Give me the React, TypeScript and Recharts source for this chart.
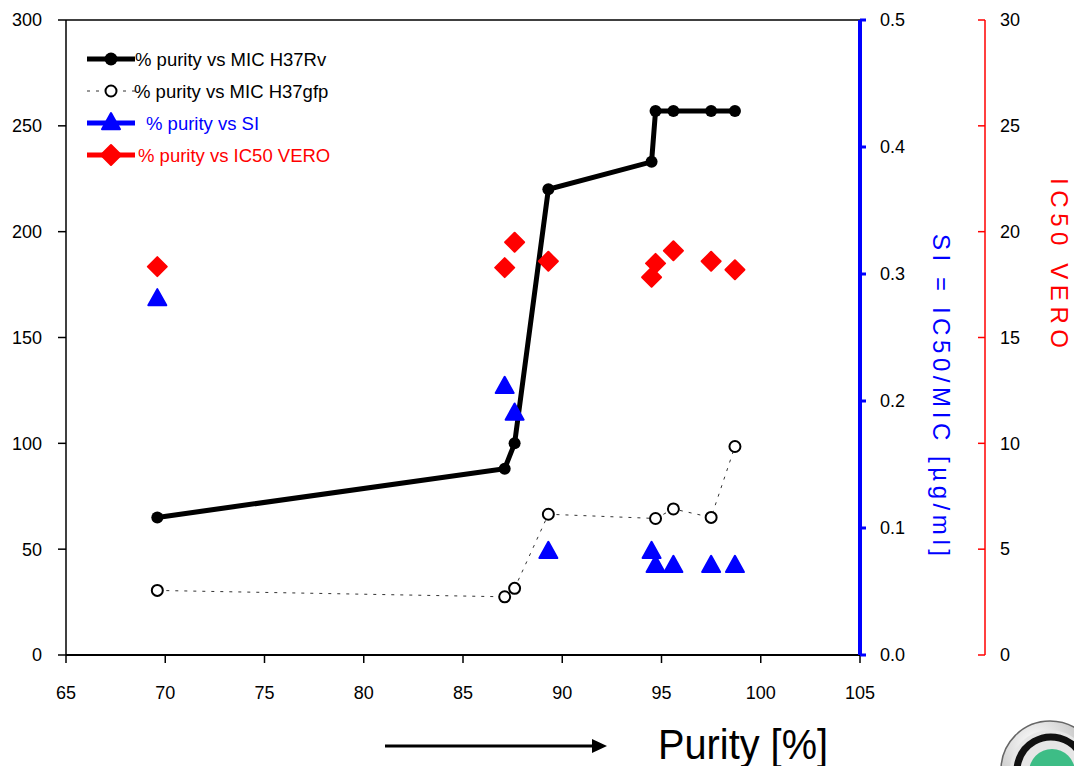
import React from "react";
import { ComposedChart, Line, XAxis, YAxis, Legend, ReferenceLine } from "recharts";

// purity of the samples [%]
const purity = [69.6, 87.1, 87.6, 89.3, 94.5, 94.7, 95.6, 97.5, 98.7];
// MIC values (left axis)
const micH37Rv = [65, 88, 100, 220, 233, 257, 257, 257, 257];
const micH37gfp = [30.5, 27.5, 31.5, 66.5, null, 64.5, 69, 65, 98.5];
// selectivity index (blue axis)
const si = [0.281, 0.212, 0.191, 0.082, 0.082, 0.071, 0.071, 0.071, 0.071];
// IC50 VERO (red axis)
const ic50Vero = [18.35, 18.3, 19.5, 18.6, 17.85, 18.5, 19.1, 18.6, 18.2];

const xTicks = [65, 70, 75, 80, 85, 90, 95, 100, 105];
const micTicks = [0, 50, 100, 150, 200, 250, 300];
const siTicks = [0, 0.1, 0.2, 0.3, 0.4, 0.5];
const ic50Ticks = [0, 5, 10, 15, 20, 25, 30];

const legendLabels = [
  "% purity vs MIC H37Rv",
  "% purity vs MIC H37gfp",
  "% purity vs SI",
  "% purity vs IC50 VERO",
];

const FONT = "'Liberation Sans', Arial, sans-serif";
const BLUE = "#0000ff";
const RED = "#ff0000";

const rows = purity.map((x, i) => ({
  x,
  rv: micH37Rv[i],
  gfp: micH37gfp[i],
  si: si[i],
  ic50: ic50Vero[i],
}));

function triangle(cx: number, cy: number, s = 9) {
  return `${cx},${cy - s} ${cx + s},${cy + s * 0.8} ${cx - s},${cy + s * 0.8}`;
}
function diamond(cx: number, cy: number, s = 9.5) {
  return `${cx},${cy - s} ${cx + s},${cy} ${cx},${cy + s} ${cx - s},${cy}`;
}

const TriangleDot = (p: any) => {
  if (p.cx == null || p.cy == null) return <g key={p.index} />;
  return (
    <polygon key={p.index} points={triangle(p.cx, p.cy)} fill={BLUE} stroke={BLUE} strokeWidth={2} strokeLinejoin="round" />
  );
};

const DiamondDot = (p: any) => {
  if (p.cx == null || p.cy == null) return <g key={p.index} />;
  return (
    <polygon key={p.index} points={diamond(p.cx, p.cy)} fill={RED} stroke={RED} strokeWidth={2} strokeLinejoin="round" />
  );
};

const RedTick = (p: any) => {
  const { x, y, payload } = p;
  return (
    <g>
      <line x1={x - 7} y1={y} x2={x} y2={y} stroke={RED} strokeWidth={1.5} />
      <text x={x + 15} y={y} dy="0.35em" fontSize={18} fill="#000" fontFamily={FONT}>
        {payload.value}
      </text>
    </g>
  );
};

const LegendBox = () => {
  const x1 = 87;
  const x2 = 135;
  const mx = 111;
  const ys = [59, 91, 123, 155];
  const txt = { fontSize: 18.5, fontFamily: FONT, dominantBaseline: "central" as const };
  return (
    <svg width={400} height={180} style={{ position: "absolute", left: 0, top: 0, overflow: "visible" }}>
      <line x1={x1} y1={ys[0]} x2={x2} y2={ys[0]} stroke="#000" strokeWidth={5} />
      <circle cx={mx} cy={ys[0]} r={6.5} fill="#000" />
      <text x={135} y={ys[0]} fill="#000" {...txt}>{legendLabels[0]}</text>

      <line x1={x1} y1={ys[1]} x2={x2} y2={ys[1]} stroke="#333" strokeWidth={1} strokeDasharray="3 6" />
      <circle cx={mx} cy={ys[1]} r={5.5} fill="#fff" stroke="#000" strokeWidth={2} />
      <text x={134} y={ys[1]} fill="#000" {...txt}>{legendLabels[1]}</text>

      <line x1={x1} y1={ys[2]} x2={x2} y2={ys[2]} stroke={BLUE} strokeWidth={5} />
      <polygon points={triangle(mx, ys[2] - 1)} fill={BLUE} stroke={BLUE} strokeWidth={2} strokeLinejoin="round" />
      <text x={146} y={ys[2]} fill={BLUE} {...txt}>{legendLabels[2]}</text>

      <line x1={x1} y1={ys[3]} x2={x2} y2={ys[3]} stroke={RED} strokeWidth={5} />
      <polygon points={diamond(mx, ys[3], 10)} fill={RED} stroke={RED} strokeWidth={2} strokeLinejoin="round" />
      <text x={138} y={ys[3]} fill={RED} {...txt}>{legendLabels[3]}</text>
    </svg>
  );
};

const PurityLabel = () => (
  <g>
    <line x1={385} y1={746} x2={594} y2={746} stroke="#000" strokeWidth={3} />
    <polygon points="592,739 607,746 592,753" fill="#000" />
    <text x={658} y={759} fontSize={43} fontFamily={FONT} fill="#000" textLength={170} lengthAdjust="spacingAndGlyphs">
      Purity [%]
    </text>
  </g>
);

const SiLabel = () => (
  <text
    x={941}
    y={395}
    transform="rotate(90, 941, 395)"
    textAnchor="middle"
    dominantBaseline="central"
    fontSize={24}
    fontFamily={FONT}
    fill={BLUE}
    textLength={322}
    lengthAdjust="spacing"
  >
    SI = IC50/MIC [µg/ml]
  </text>
);

const Ic50Label = () => (
  <text
    x={1059}
    y={263}
    transform="rotate(90, 1059, 263)"
    textAnchor="middle"
    dominantBaseline="central"
    fontSize={24}
    fontFamily={FONT}
    fill={RED}
    textLength={170}
    lengthAdjust="spacing"
  >
    IC50 VERO
  </text>
);

export default function App() {
  const tick = { fill: "#000", fontSize: 18, fontFamily: FONT };
  return (
    <div style={{ position: "absolute", left: 0, top: 0, width: 1074, height: 766, background: "#fff", overflow: "hidden" }}>
      <ComposedChart width={1074} height={766} data={rows} margin={{ top: 20, right: 9, left: 10, bottom: 0 }}>
        <XAxis
          type="number"
          dataKey="x"
          domain={[65, 105]}
          ticks={xTicks}
          axisLine={{ stroke: "#000", strokeWidth: 2 }}
          tickLine={{ stroke: "#000", strokeWidth: 1.5 }}
          tickSize={8}
          tickMargin={23}
          tick={tick}
          height={111}
          label={{ content: PurityLabel }}
        />
        <YAxis
          yAxisId="a_mic"
          domain={[0, 300]}
          ticks={micTicks}
          width={56}
          axisLine={{ stroke: "#000", strokeWidth: 1.5 }}
          tickLine={{ stroke: "#000", strokeWidth: 1.5 }}
          tickSize={8}
          tickMargin={16}
          tick={tick}
        />
        <YAxis
          yAxisId="b_si"
          orientation="right"
          domain={[0, 0.5]}
          ticks={siTicks}
          tickFormatter={(v: number) => v.toFixed(1)}
          width={125}
          axisLine={{ stroke: BLUE, strokeWidth: 4 }}
          tickLine={{ stroke: BLUE, strokeWidth: 3 }}
          tickSize={6}
          tickMargin={14}
          tick={tick}
          label={{ content: SiLabel }}
        />
        <YAxis
          yAxisId="c_ic50"
          orientation="right"
          domain={[0, 30]}
          ticks={ic50Ticks}
          width={80}
          axisLine={{ stroke: RED, strokeWidth: 1.5 }}
          tickLine={false}
          tickSize={0}
          tickMargin={0}
          tick={RedTick}
          label={{ content: Ic50Label }}
        />
        <ReferenceLine yAxisId="a_mic" y={300} stroke="#000" strokeWidth={1.5} ifOverflow="extendDomain" />
        <Legend content={LegendBox} layout="vertical" align="center" verticalAlign="middle" wrapperStyle={{ left: 0, top: 0, width: 400, height: 180 }} />
        <Line
          yAxisId="a_mic"
          dataKey="gfp"
          type="linear"
          connectNulls
          stroke="#333"
          strokeWidth={1}
          strokeDasharray="3 6"
          dot={{ r: 5.5, fill: "#fff", stroke: "#000", strokeWidth: 2, strokeDasharray: "0" }}
          activeDot={false}
          isAnimationActive={false}
        />
        <Line
          yAxisId="a_mic"
          dataKey="rv"
          type="linear"
          stroke="#000"
          strokeWidth={5}
          dot={{ r: 6, fill: "#000", stroke: "#000", strokeWidth: 0 }}
          activeDot={false}
          isAnimationActive={false}
        />
        <Line
          yAxisId="b_si"
          dataKey="si"
          stroke="none"
          dot={TriangleDot}
          activeDot={false}
          isAnimationActive={false}
        />
        <Line
          yAxisId="c_ic50"
          dataKey="ic50"
          stroke="none"
          dot={DiamondDot}
          activeDot={false}
          isAnimationActive={false}
        />
      </ComposedChart>
      <svg width={84} height={56} style={{ position: "absolute", left: 990, top: 710 }}>
        <defs>
          <radialGradient id="ring" cx="35%" cy="25%" r="85%">
            <stop offset="0%" stopColor="#ffffff" />
            <stop offset="55%" stopColor="#c8c8c8" />
            <stop offset="100%" stopColor="#5a5a5a" />
          </radialGradient>
        </defs>
        <circle cx={60} cy={60} r={49} fill="url(#ring)" stroke="#666" strokeWidth={1.5} />
        <circle cx={60} cy={60} r={40} fill="#e6e6e6" />
        <circle cx={61} cy={61} r={34} fill="none" stroke="#111" strokeWidth={7} strokeDasharray="150 64" transform="rotate(150 61 61)" />
        <circle cx={62} cy={62} r={23} fill="#3dbd86" />
      </svg>
    </div>
  );
}
